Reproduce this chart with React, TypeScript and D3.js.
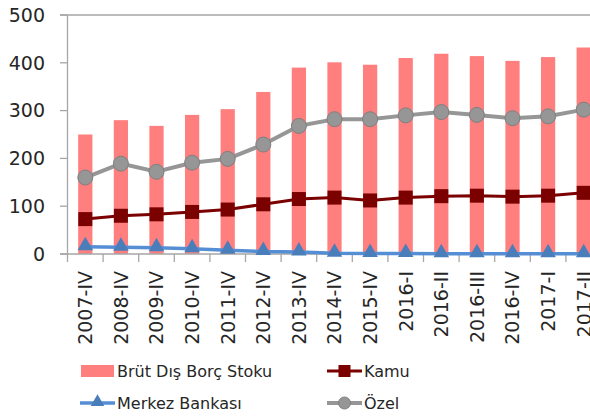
import React from 'react';
import * as d3 from 'd3';

// Data (milyar $)
const categories = [
  '2007-IV', '2008-IV', '2009-IV', '2010-IV', '2011-IV', '2012-IV', '2013-IV',
  '2014-IV', '2015-IV', '2016-I', '2016-II', '2016-III', '2016-IV', '2017-I', '2017-II'
];
const brutStok = [250, 280, 268, 291, 303, 339, 390, 401, 396, 410, 419, 414, 404, 412, 432];
const kamu = [73, 80, 83, 88, 93, 104, 115, 118, 112, 118, 121, 122, 120, 122, 128];
const merkez = [15, 14, 13, 11, 8, 5, 4, 1.5, 1, 1, 0.5, 0.5, 0.5, 0.5, 0.5];
const ozel = [160, 189, 172, 191, 199, 229, 268, 282, 282, 290, 297, 291, 284, 288, 302];
const yTicks = [0, 100, 200, 300, 400, 500];

const FONT = 'DejaVu Sans';
const AXIS = '#a6a6a6';

const App = () => {
  const W = 590;
  const H = 416;
  const left = 67.5;
  const step = 35.6;

  const x = d3.scaleBand<string>()
    .domain(categories)
    .range([left, left + step * categories.length]);
  const y = d3.scaleLinear().domain([0, 500]).range([254, 15]);
  const cx = (c: string) => (x(c) as number) + x.bandwidth() / 2;
  const barW = x.bandwidth() * 0.4;

  const line = d3.line<number>()
    .x((_, i) => cx(categories[i]))
    .y(d => y(d));

  const tri = d3.symbol().type(d3.symbolTriangle).size(105)();
  const triSmall = d3.symbol().type(d3.symbolTriangle).size(80)();

  return (
    <div style={{ position: 'absolute', left: 0, top: 0 }}>
      <svg width={W} height={H} style={{ display: 'block' }}>
        <rect width={W} height={H} fill="#fff" />

        {/* bars */}
        {brutStok.map((v, i) => (
          <rect key={i}
            x={cx(categories[i]) - barW / 2}
            y={y(v)}
            width={barW}
            height={y(0) - y(v)}
            fill="#ff7f7f" />
        ))}

        {/* axes */}
        <line x1={left} x2={left} y1={y(500)} y2={y(0)} stroke={AXIS} strokeWidth={1.3} />
        <line x1={60} x2={W} y1={y(500)} y2={y(500)} stroke={AXIS} strokeWidth={1.3} />
        <line x1={60} x2={W} y1={y(0)} y2={y(0)} stroke={AXIS} strokeWidth={1.3} />
        {yTicks.map(t => (
          <g key={t}>
            <line x1={60} x2={left} y1={y(t)} y2={y(t)} stroke={AXIS} strokeWidth={1.3} />
            <text x={45} y={y(t)} dy="0.36em" textAnchor="end"
              fontFamily={FONT} fontSize={19} fill="#262626">{t}</text>
          </g>
        ))}
        {categories.map((c, i) => (
          <line key={c} x1={left + i * step} x2={left + i * step} y1={y(0)} y2={y(0) + 8}
            stroke={AXIS} strokeWidth={1.3} />
        ))}
        {categories.map(c => (
          <text key={c} transform={`translate(${cx(c)},271) rotate(-90)`}
            dy="0.36em" textAnchor="end" fontFamily={FONT} fontSize={19} fill="#262626">{c}</text>
        ))}

        {/* Merkez Bankası */}
        <path d={line(merkez) || ''} fill="none" stroke="#558ed5" strokeWidth={3.5} />
        {merkez.map((v, i) => (
          <path key={i} d={tri || ''} transform={`translate(${cx(categories[i])},${y(v) - 1})`} fill="#4a7ebb" />
        ))}

        {/* Kamu */}
        <path d={line(kamu) || ''} fill="none" stroke="#7b0000" strokeWidth={3} />
        {kamu.map((v, i) => (
          <rect key={i} x={cx(categories[i]) - 7} y={y(v) - 7} width={14} height={14} fill="#7b0000" />
        ))}

        {/* Özel */}
        <path d={line(ozel) || ''} fill="none" stroke="#969696" strokeWidth={4} />
        {ozel.map((v, i) => (
          <circle key={i} cx={cx(categories[i])} cy={y(v)} r={7.5} fill="#969696" stroke="#7f7f7f" strokeWidth={1} />
        ))}

        {/* legend */}
        <g fontFamily={FONT} fontSize={16} fill="#262626">
          <rect x={81} y={365} width={33} height={12} fill="#ff7f7f" />
          <text x={117} y={371} dy="0.36em">Brüt Dış Borç Stoku</text>

          <line x1={327} x2={362} y1={371} y2={371} stroke="#7b0000" strokeWidth={3} />
          <rect x={338.5} y={365} width={12} height={12} fill="#7b0000" />
          <text x={364} y={371} dy="0.36em">Kamu</text>

          <line x1={80} x2={115} y1={403} y2={403} stroke="#558ed5" strokeWidth={3.5} />
          <path d={triSmall || ''} transform="translate(97.5,402)" fill="#4a7ebb" />
          <text x={117} y={403} dy="0.36em">Merkez Bankası</text>

          <line x1={327} x2={362} y1={403} y2={403} stroke="#969696" strokeWidth={4} />
          <circle cx={344.5} cy={403} r={6} fill="#969696" stroke="#7f7f7f" strokeWidth={1} />
          <text x={364} y={403} dy="0.36em">Özel</text>
        </g>
      </svg>
    </div>
  );
};

export default App;
